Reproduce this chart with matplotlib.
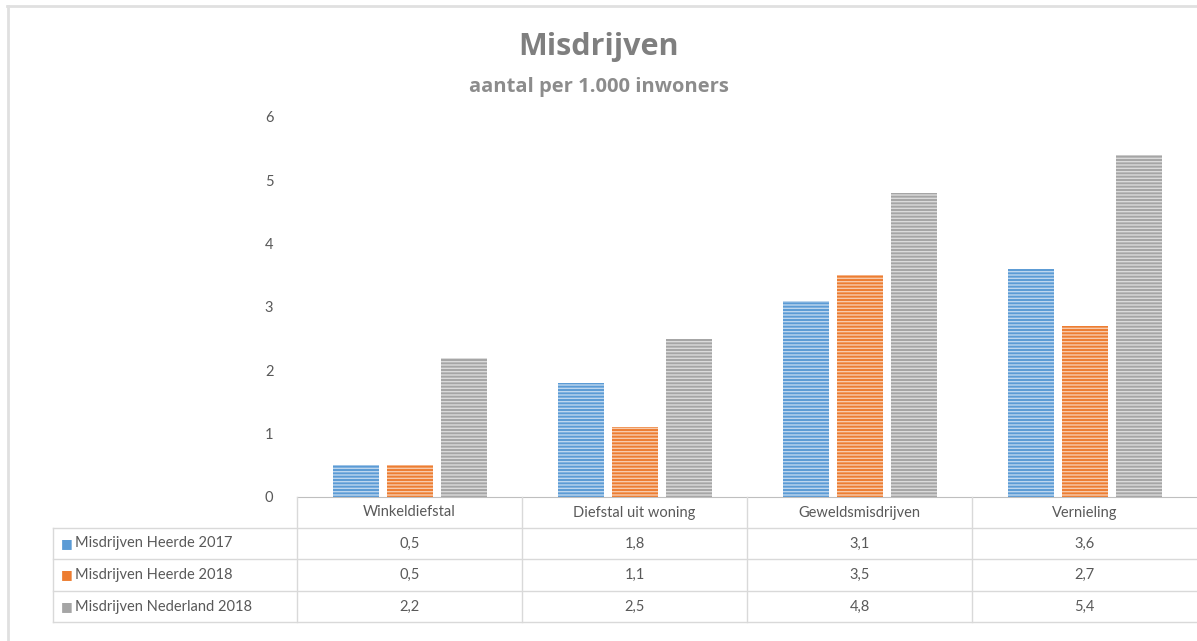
import numpy as np
import matplotlib.pyplot as plt
from matplotlib.lines import Line2D

# chart data
categories = ['Winkeldiefstal', 'Diefstal uit woning', 'Geweldsmisdrijven', 'Vernieling']
series_names = ['Misdrijven Heerde 2017', 'Misdrijven Heerde 2018', 'Misdrijven Nederland 2018']
heerde_2017 = [0.5, 1.8, 3.1, 3.6]
heerde_2018 = [0.5, 1.1, 3.5, 2.7]
nederland_2018 = [2.2, 2.5, 4.8, 5.4]
yticks = [0, 1, 2, 3, 4, 5, 6]

colors = ['#5B9BD5', '#ED7D31', '#A5A5A5']
textgray = '#595959'
linegray = '#D9D9D9'

W, H = 1197, 641
plt.rcParams['font.family'] = ['Lato', 'DejaVu Sans']
plt.rcParams['hatch.linewidth'] = 1.0

fig = plt.figure(figsize=(W / 100, H / 100), dpi=100)

def fx(px):
    return px / W

def fy(py):
    # pixel from top -> figure fraction from bottom
    return 1 - py / H

def hline(x0, x1, y, color=linegray, lw=1.0):
    fig.add_artist(Line2D([fx(x0), fx(x1)], [fy(y), fy(y)], color=color, lw=lw))

def vline(x, y0, y1, color=linegray, lw=1.0):
    fig.add_artist(Line2D([fx(x), fx(x)], [fy(y0), fy(y1)], color=color, lw=lw))

# outer frame of the picture
hline(7, W, 6, color='#E0E0E0', lw=2)
vline(8, 6, H, color='#E0E0E0', lw=2)

# plot area
ax_left, ax_right, ax_top, ax_bottom = 297, 1197, 117, 497
ax = fig.add_axes([fx(ax_left), fy(ax_bottom), fx(ax_right - ax_left), fy(ax_top) - fy(ax_bottom)])

data = [heerde_2017, heerde_2018, nederland_2018]
x = np.arange(len(categories))
width = 46 / 225
step = 54 / 225
for i, vals in enumerate(data):
    pos = x + (i - 1) * step
    ax.bar(pos, vals, width, color=colors[i], linewidth=0)
    ax.bar(pos, vals, width, facecolor='none', edgecolor=(1, 1, 1, 0.6),
           hatch='-----', linewidth=0)

ax.set_xlim(-0.5, len(categories) - 0.5)
ax.set_ylim(0, 6)
ax.set_yticks(yticks)
ax.set_yticklabels([str(t) for t in yticks], color=textgray, fontsize=10.5)
ax.tick_params(axis='y', length=0, pad=17)
ax.set_xticks([])
for s in ['top', 'right', 'left']:
    ax.spines[s].set_visible(False)
ax.spines['bottom'].set_color('#BFBFBF')

# titles
fig.text(0.5, fy(47), 'Misdrijven', ha='center', va='center', fontsize=22,
         fontweight='bold', color='#7F7F7F', family='Open Sans')
fig.text(0.5, fy(87), 'aantal per 1.000 inwoners', ha='center', va='center',
         fontsize=14.5, fontweight='bold', color='#8C8C8C', family='Open Sans')

# data table
col_w = (ax_right - ax_left) / len(categories)
row_y = [497, 528, 559, 591, 622]
tab_left = 53

# header row
for j, cat in enumerate(categories):
    cx = ax_left + (j + 0.5) * col_w
    fig.text(fx(cx), fy((row_y[0] + row_y[1]) / 2), cat, ha='center', va='center',
             fontsize=10.5, color=textgray)
for j in range(len(categories)):
    vline(ax_left + j * col_w, row_y[0], row_y[-1])
for y in row_y[1:]:
    hline(tab_left, W, y)
vline(tab_left, row_y[1], row_y[-1])

for i, (name, vals) in enumerate(zip(series_names, data)):
    cy = (row_y[i + 1] + row_y[i + 2]) / 2
    fig.text(fx(61), fy(cy), '\u25A0', ha='left', va='center', fontsize=9,
             color=colors[i], family='DejaVu Sans')
    fig.text(fx(75), fy(cy), name, ha='left', va='center', fontsize=10.5, color=textgray)
    for j, v in enumerate(vals):
        cx = ax_left + (j + 0.5) * col_w
        fig.text(fx(cx), fy(cy), f'{v:.1f}'.replace('.', ','), ha='center', va='center',
                 fontsize=10.5, color=textgray)

fig.savefig('out.png', dpi=100)
